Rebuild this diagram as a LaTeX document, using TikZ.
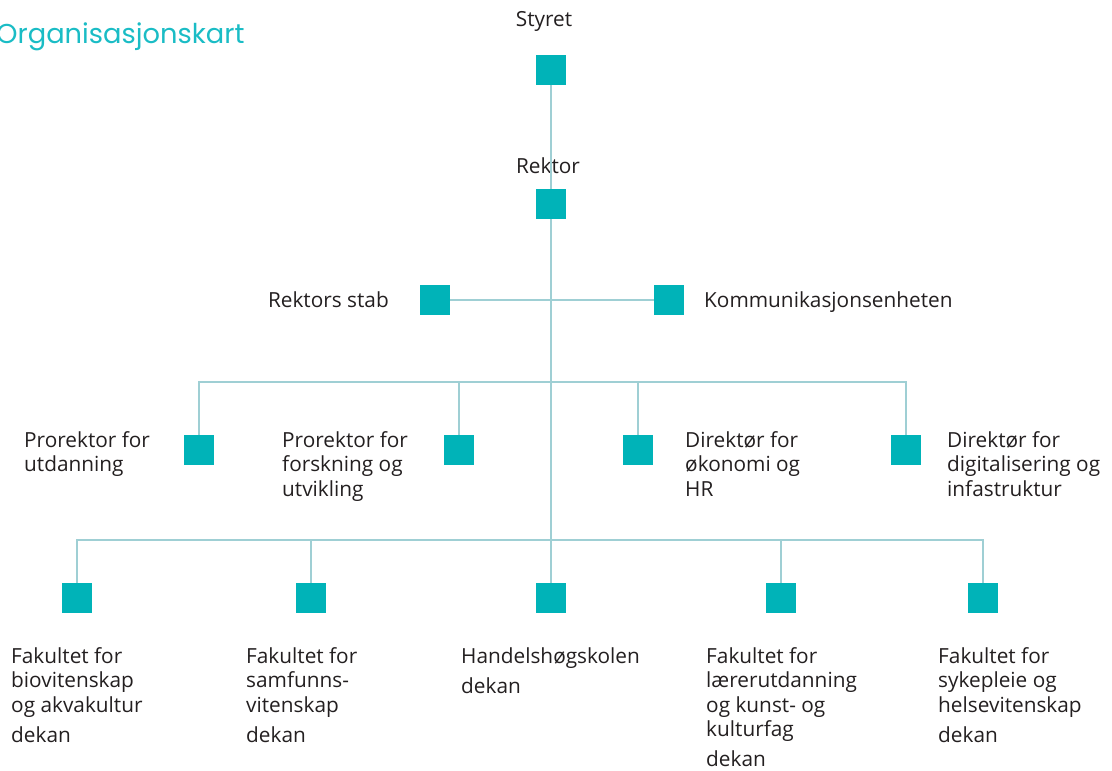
\documentclass[tikz,border=0pt]{standalone}
\usepackage{fontspec}
\setmainfont{Open Sans}
\newfontfamily\titlefont{Poppins}
\usetikzlibrary{calc}

\definecolor{boxteal}{HTML}{00B3B8}
\definecolor{lineteal}{HTML}{9FCFD4}
\definecolor{titleteal}{HTML}{1ABCC5}
\definecolor{inkgrey}{HTML}{231F20}

\tikzset{
  unitbox/.style={rectangle, fill=boxteal, inner sep=0pt, minimum size=30pt},
  unittext/.style={inner sep=0pt, align=left, text=inkgrey, font=\fontsize{20.8}{24.5}\selectfont},
  orgline/.style={draw=lineteal, line width=1.3pt}
}

\begin{document}
\begin{tikzpicture}[x=1pt, y=-1pt]
  \useasboundingbox (0,0) rectangle (1112,771);

  \node[anchor=base west, inner sep=0pt, text=titleteal, font=\titlefont\fontsize{27.3}{34}\selectfont] (title) at (-4,43) {Organisasjonskart};

  % top of the tree
  \node[unitbox] (styret) at (551,70) {};
  \node[unitbox] (rektor) at (551,204) {};
  \node[unittext, anchor=base] (styrettxt) at (544,27) {Styret};
  \node[unittext, anchor=base] (rektortxt) at (548,173) {Rektor};

  % stab
  \node[unitbox] (stab) at (435,300) {};
  \node[unitbox] (komm) at (669,300) {};
  \node[unittext, anchor=base east] (stabtxt) at (389,307) {Rektors stab};
  \node[unittext, anchor=base west] (kommtxt) at (704,307) {Kommunikasjonsenheten};

  % prorektorer og direktører (base = last line)
  \node[unitbox] (pu) at (199,450) {};
  \node[unitbox] (pf) at (459,450) {};
  \node[unitbox] (dh) at (638,450) {};
  \node[unitbox] (dd) at (906,450) {};
  \node[unittext, anchor=base west] (putxt) at (24,471.5) {Prorektor for\\utdanning};
  \node[unittext, anchor=base west] (pftxt) at (282,496) {Prorektor for\\forskning og\\utvikling};
  \node[unittext, anchor=base west] (dhtxt) at (685,496) {Direktør for\\økonomi og\\HR};
  \node[unittext, anchor=base west] (ddtxt) at (947,496) {Direktør for\\digitalisering og\\infastruktur};

  % fakulteter
  \node[unitbox] (bio) at (77,598) {};
  \node[unitbox] (sam) at (311,598) {};
  \node[unitbox] (hhs) at (551,598) {};
  \node[unitbox] (lu) at (781,598) {};
  \node[unitbox] (helse) at (983,598) {};
  \node[unittext, anchor=base west] (biotxt) at (11,742) {Fakultet for\\biovitenskap\\og akvakultur\\[5.5pt]dekan};
  \node[unittext, anchor=base west] (samtxt) at (246,742) {Fakultet for\\samfunns-\\vitenskap\\[5.5pt]dekan};
  \node[unittext, anchor=base west] (hhstxt) at (461,693) {Handelshøgskolen\\[5.5pt]dekan};
  \node[unittext, anchor=base west] (lutxt) at (706,766.5) {Fakultet for\\lærerutdanning\\og kunst- og\\kulturfag\\[5.5pt]dekan};
  \node[unittext, anchor=base west] (helsetxt) at (938,742) {Fakultet for\\sykepleie og\\helsevitenskap\\[5.5pt]dekan};

  \coordinate (midleft) at (199,382);
  \coordinate (midright) at (906,382);
  \coordinate (lowleft) at (77,540);
  \coordinate (lowright) at (983,540);

  % connectors
  \draw[orgline] (styret) -- (rektor);
  \draw[orgline] (rektor) -- (hhs);
  \draw[orgline] (stab) -- (komm);
  \draw[orgline] (pu) -- (midleft) -- (midright) -- (dd);
  \draw[orgline] (pf) -- (pf |- midleft);
  \draw[orgline] (dh) -- (dh |- midleft);
  \draw[orgline] (bio) -- (lowleft) -- (lowright) -- (helse);
  \draw[orgline] (sam) -- (sam |- lowleft);
  \draw[orgline] (lu) -- (lu |- lowleft);
\end{tikzpicture}
\end{document}
